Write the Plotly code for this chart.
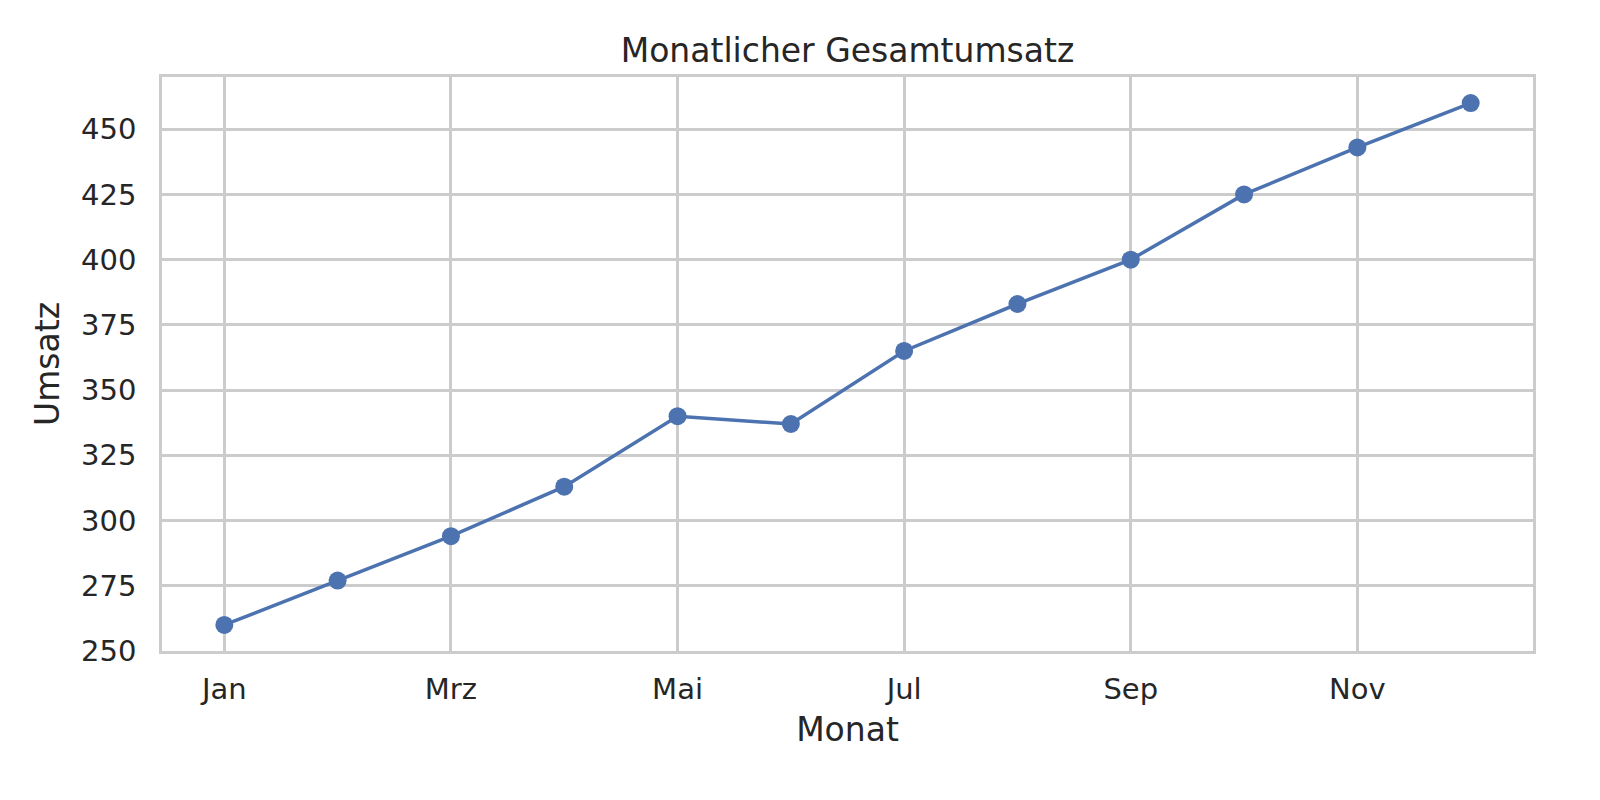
import plotly.graph_objects as go

# Monatsdaten
monate = ["Jan", "Feb", "Mrz", "Apr", "Mai", "Jun",
          "Jul", "Aug", "Sep", "Okt", "Nov", "Dez"]
umsatz = [260, 277, 294, 313, 340, 337, 365, 383, 400, 425, 443, 460]
tick_monate = ["Jan", "Mrz", "Mai", "Jul", "Sep", "Nov"]
y_ticks = [250, 275, 300, 325, 350, 375, 400, 425, 450]

FONT = "DejaVu Sans"
GRID = "#cccccc"
TEXT = "#262626"

fig = go.Figure()
fig.add_trace(
    go.Scatter(
        x=monate,
        y=umsatz,
        mode="lines+markers",
        line=dict(color="#4c72b0", width=3.5),
        marker=dict(color="#4c72b0", size=18),
        showlegend=False,
    )
)

fig.update_layout(
    width=1600,
    height=800,
    paper_bgcolor="white",
    plot_bgcolor="white",
    font=dict(family=FONT, color=TEXT, size=29),
    margin=dict(l=162, r=67, t=77, b=149),
    # matplotlib centers the title over the axes, not the page
    title=dict(
        text="Monatlicher Gesamtumsatz",
        xref="paper",
        x=0.5,
        xanchor="center",
        yref="container",
        y=1 - 50 / 800,
        yanchor="middle",
        font=dict(family=FONT, size=33, color=TEXT),
    ),
)

fig.update_xaxes(
    type="category",
    categoryorder="array",
    categoryarray=monate,
    range=[-0.55, 11.55],
    tickmode="array",
    tickvals=tick_monate,
    ticktext=tick_monate,
    showgrid=True,
    gridcolor=GRID,
    gridwidth=2.5,
    showline=True,
    linecolor=GRID,
    linewidth=2.5,
    mirror=True,
    ticks="",
    ticklabelstandoff=10,
    zeroline=False,
    automargin=False,
    title=dict(text="Monat", font=dict(size=33, color=TEXT), standoff=14),
)

fig.update_yaxes(
    range=[250, 470],
    tickmode="array",
    tickvals=y_ticks,
    showgrid=True,
    gridcolor=GRID,
    gridwidth=2.5,
    showline=True,
    linecolor=GRID,
    linewidth=2.5,
    mirror=True,
    ticks="",
    ticklabelstandoff=17,
    zeroline=False,
    automargin=False,
    title=dict(text="Umsatz", font=dict(size=33, color=TEXT), standoff=12),
)

fig.write_html(
    "out.html",
    config={"displayModeBar": False},
    post_script="document.body.style.margin = '0';",
)
